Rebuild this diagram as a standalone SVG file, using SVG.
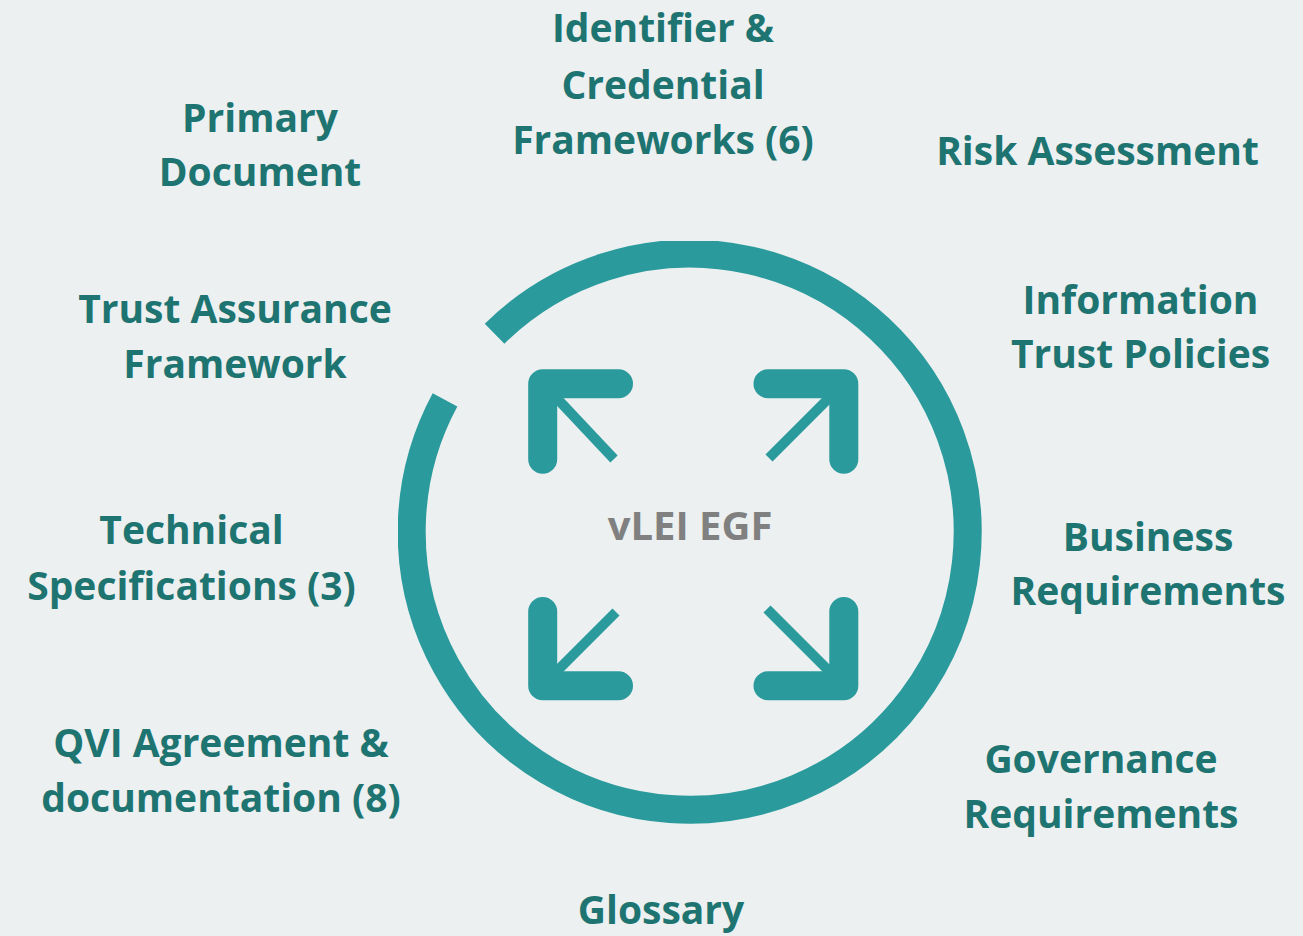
<svg xmlns="http://www.w3.org/2000/svg" width="1303" height="936" viewBox="0 0 1303 936">
<style>
.lbl{font-family:"Open Sans","Noto Sans","DejaVu Sans",sans-serif;font-weight:700;font-size:39px;fill:#1e7471;text-anchor:middle}
.ctr{font-family:"Open Sans","Noto Sans","DejaVu Sans",sans-serif;font-weight:700;font-size:40px;fill:#808080;text-anchor:middle}
.ring{fill:none;stroke:#2a9a9c;stroke-width:28}
.ell{fill:none;stroke:#2a9a9c;stroke-width:29;stroke-linecap:round;stroke-linejoin:round}
.diag{fill:none;stroke:#2a9a9c;stroke-width:10}
</style>
<defs>
<clipPath id="clip"><rect x="398" y="241" width="584" height="584"/></clipPath>
</defs>
<rect width="1303" height="936" fill="#ecf0f0"/>
<g id="ring" clip-path="url(#clip)">
<path class="ring" d="M 494.6 333.7 A 278 278 0 1 1 445 399.8"/>
</g>
<g id="arrows">
<path class="ell" d="M 618.5 383.7 H 542.7 V 459.3"/>
<line class="diag" x1="550" y1="391" x2="614" y2="459"/>
<path class="ell" d="M 768 383.7 H 843.8 V 459.3"/>
<line class="diag" x1="836" y1="391" x2="769" y2="458"/>
<path class="ell" d="M 542.7 611.5 V 685.8 H 618.5"/>
<line class="diag" x1="550" y1="678" x2="616" y2="612"/>
<path class="ell" d="M 843.8 611.5 V 685.8 H 768"/>
<line class="diag" x1="836" y1="678" x2="767" y2="609"/>
</g>
<g id="center"><text class="ctr" x="690" y="540">vLEI EGF</text></g>
<g id="identifier"><text class="lbl" x="663" y="42">Identifier &amp;</text><text class="lbl" x="663" y="99">Credential</text><text class="lbl" x="663" y="154">Frameworks (6)</text></g>
<g id="primary"><text class="lbl" x="260" y="132">Primary</text><text class="lbl" x="260" y="186">Document</text></g>
<g id="risk"><text class="lbl" x="1097.5" y="165">Risk Assessment</text></g>
<g id="trust-assurance"><text class="lbl" x="235" y="323">Trust Assurance</text><text class="lbl" x="235" y="378">Framework</text></g>
<g id="information"><text class="lbl" x="1140.5" y="314">Information</text><text class="lbl" x="1140.5" y="368">Trust Policies</text></g>
<g id="technical"><text class="lbl" x="191.5" y="544">Technical</text><text class="lbl" x="191.5" y="600">Specifications (3)</text></g>
<g id="business"><text class="lbl" x="1148" y="551">Business</text><text class="lbl" x="1148" y="605">Requirements</text></g>
<g id="qvi"><text class="lbl" x="221" y="757">QVI Agreement &amp;</text><text class="lbl" x="221" y="812">documentation (8)</text></g>
<g id="governance"><text class="lbl" x="1101" y="773">Governance</text><text class="lbl" x="1101" y="828">Requirements</text></g>
<g id="glossary"><text class="lbl" x="661" y="924">Glossary</text></g>
</svg>
